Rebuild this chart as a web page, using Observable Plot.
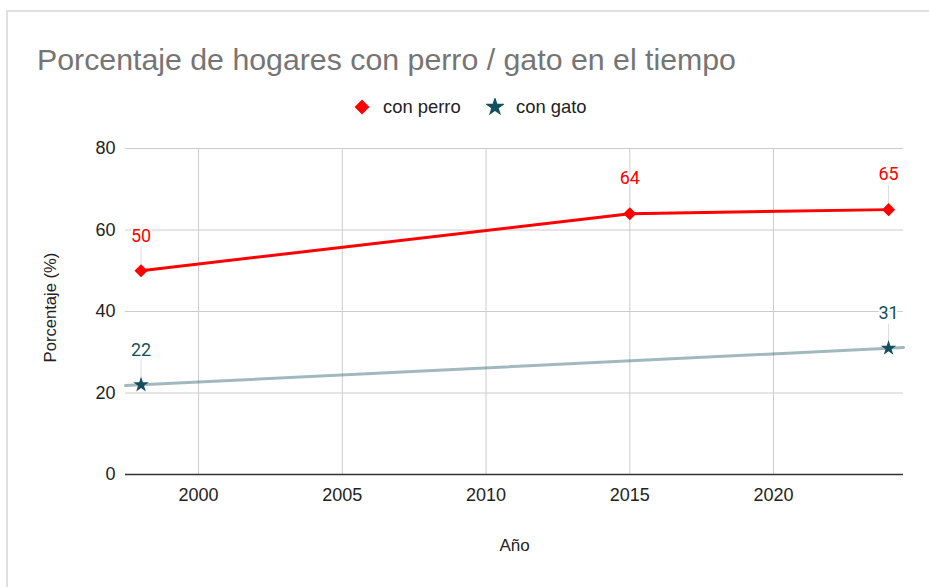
<!DOCTYPE html>
<html>
<head>
<meta charset="utf-8">
<script src="https://cdn.jsdelivr.net/npm/d3@7"></script>
<script src="https://cdn.jsdelivr.net/npm/@observablehq/plot@0.6"></script>
<style>
  html, body { margin: 0; padding: 0; background: #fff; }
  body { width: 929px; height: 587px; position: relative; overflow: hidden; font-family: "Liberation Sans", Arial, sans-serif; }
  #frame { position: absolute; left: 6px; top: 10px; right: -4px; bottom: -4px; border-top: 2px solid #e0e0e0; border-left: 2px solid #e0e0e0; pointer-events: none; }
  #header { position: relative; height: 125px; }
  #title { position: absolute; left: 37px; top: 42px; font-size: 30.3px; line-height: 36px; color: #757575; white-space: nowrap; }
  #legend { position: absolute; left: 0; width: 929px; top: 96px; height: 22px; }
  .item { position: absolute; top: 0; display: flex; align-items: center; height: 22px; font-size: 18.4px; color: #222; }
  .item svg { margin-right: 12px; }
</style>
</head>
<body>
<div id="header">
  <div id="title"></div>
  <div id="legend"></div>
</div>
<div id="chart"></div>
<div id="frame"></div>
<script>
// ---- data ----
const titleText = "Porcentaje de hogares con perro / gato en el tiempo";
const seriesNames = ["con perro", "con gato"];
const seriesColors = ["#ff0000", "#134f5c"];
const dogYears = [1998, 2015, 2024];
const dogValues = [50, 64, 65];
const catYears = [1998, 2024];
const catValues = [22, 31];
const xTicks = [2000, 2005, 2010, 2015, 2020];
const yTicks = [0, 20, 40, 60, 80];
const xDomain = [1997.46, 2024.52];
const yDomain = [0, 80];
const xLabel = "Año";
const yLabel = "Porcentaje (%)";

const dog = dogYears.map((year, i) => ({year, value: dogValues[i]}));
const cat = catYears.map((year, i) => ({year, value: catValues[i]}));

// linear trendline for the cat series, spanning the x domain
const mx = d3.mean(cat, d => d.year), my = d3.mean(cat, d => d.value);
const slope = d3.sum(cat, d => (d.year - mx) * (d.value - my)) / d3.sum(cat, d => (d.year - mx) ** 2);
const intercept = my - slope * mx;
const catTrend = xDomain.map(year => ({year, value: intercept + slope * year}));

// ---- title & legend ----
document.getElementById("title").textContent = titleText;
const legend = document.getElementById("legend");
const legendX = [353, 486];
const legendSymbols = [d3.symbolDiamond2, d3.symbolStar];
const legendSizes = [140, 120];
seriesNames.forEach((name, i) => {
  const item = document.createElement("div");
  item.className = "item";
  item.style.left = legendX[i] + "px";
  const svg = d3.create("svg").attr("width", 18).attr("height", 18);
  svg.append("path")
    .attr("transform", "translate(9,9)")
    .attr("d", d3.symbol(legendSymbols[i], legendSizes[i])())
    .attr("fill", seriesColors[i]);
  item.appendChild(svg.node());
  const span = document.createElement("span");
  span.textContent = name;
  item.appendChild(span);
  legend.appendChild(item);
});

// ---- chart ----
const font = "'Liberation Sans', Arial, sans-serif";
const labelFont = "Roboto, sans-serif";
const chart = Plot.plot({
  width: 929,
  height: 462,
  marginTop: 23,
  marginBottom: 113,
  marginLeft: 125,
  marginRight: 26,
  style: {fontFamily: font, fontSize: "18px", color: "#222", background: "transparent"},
  x: {domain: xDomain, label: null},
  y: {domain: yDomain, label: null},
  marks: [
    Plot.gridX({ticks: xTicks, stroke: "#cccccc", strokeOpacity: 1}),
    Plot.gridY({ticks: yTicks.filter(t => t > 0), stroke: "#cccccc", strokeOpacity: 1}),
    Plot.axisX({ticks: xTicks, tickFormat: d3.format("d"), tickSize: 0, tickPadding: 14, label: null}),
    Plot.axisY({ticks: yTicks, tickSize: 0, tickPadding: 10, label: null}),
    Plot.ruleY([0], {stroke: "#333", strokeWidth: 1.5}),
    Plot.text([yLabel], {frameAnchor: "left", textAnchor: "middle", lineAnchor: "middle", rotate: -90, dx: -75, dy: -4, fontSize: 16.6, fill: "#222"}),
    Plot.text([xLabel], {frameAnchor: "bottom", textAnchor: "middle", lineAnchor: "middle", dy: 71, fontSize: 17, fill: "#222"}),
    // leader lines for data labels
    Plot.ruleX(dog, {x: "year", y1: "value", y2: "value", insetTop: 0, insetBottom: 24, stroke: "#dddddd", strokeWidth: 1}),
    Plot.ruleX(cat, {x: "year", y1: "value", y2: "value", insetTop: 0, insetBottom: 24, stroke: "#dddddd", strokeWidth: 1}),
    // cat trendline
    Plot.line(catTrend, {x: "year", y: "value", stroke: seriesColors[1], strokeOpacity: 0.4, strokeWidth: 3}),
    // dog line
    Plot.line(dog, {x: "year", y: "value", stroke: seriesColors[0], strokeWidth: 3}),
    Plot.dot(dog, {x: "year", y: "value", symbol: "diamond2", r: 5.9, fill: seriesColors[0], stroke: "none"}),
    Plot.dot(cat, {x: "year", y: "value", symbol: "star", r: 4.9, fill: seriesColors[1], stroke: "none"}),
    // data labels
    Plot.text(dog, {x: "year", y: "value", text: d => String(d.value), dy: -35, fill: seriesColors[0], fontFamily: labelFont, fontSize: 18, stroke: "white", strokeWidth: 4}),
    Plot.text(cat, {x: "year", y: "value", text: d => String(d.value), dy: -35, fill: seriesColors[1], fontFamily: labelFont, fontSize: 18, stroke: "white", strokeWidth: 4})
  ]
});
document.getElementById("chart").appendChild(chart);
</script>
</body>
</html>
